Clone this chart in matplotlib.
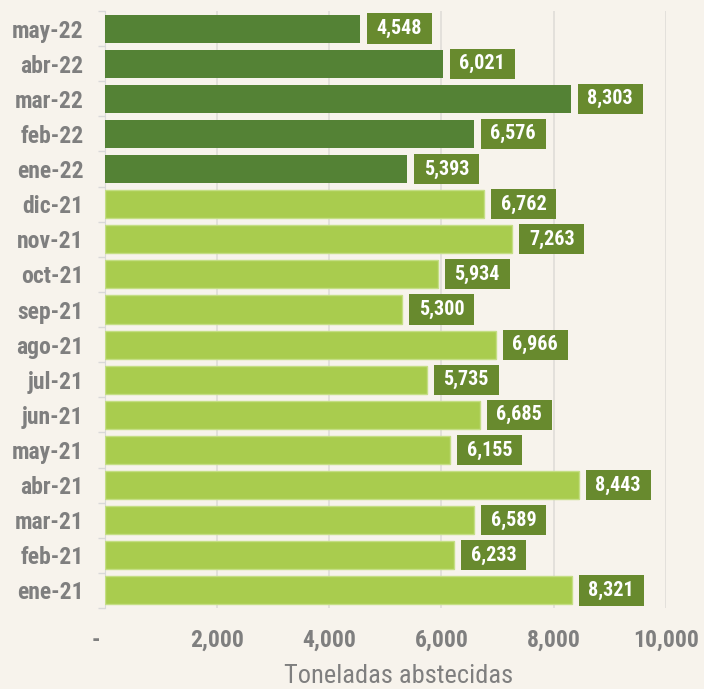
import matplotlib
matplotlib.use("Agg")
import matplotlib.pyplot as plt
from matplotlib import font_manager
from matplotlib.patches import Rectangle

months = ["ene-21", "feb-21", "mar-21", "abr-21", "may-21", "jun-21", "jul-21", "ago-21",
          "sep-21", "oct-21", "nov-21", "dic-21", "ene-22", "feb-22", "mar-22", "abr-22", "may-22"]
values = [8321, 6233, 6589, 8443, 6155, 6685, 5735, 6966,
          5300, 5934, 7263, 6762, 5393, 6576, 8303, 6021, 4548]
year_2022 = [False] * 12 + [True] * 5
xticks = [0, 2000, 4000, 6000, 8000, 10000]
xticklabels = ["-   ", "2,000", "4,000", "6,000", "8,000", "10,000"]
xlabel = "Toneladas abstecidas"

names = {f.name for f in font_manager.fontManager.ttflist}
fam = [f for f in ["Roboto Condensed", "Liberation Sans Narrow", "Liberation Sans", "DejaVu Sans"] if f in names]
plt.rcParams['font.family'] = fam

BG = "#f7f3ec"
DARK = "#548235"
LIGHT = "#a9cc4e"
BOX = "#688a2e"
GRAY = "#7f7f7f"

W, H = 704, 689
fig = plt.figure(figsize=(W / 100, H / 100), dpi=100, facecolor=BG)
ax_w_px = 561.5
ax = fig.add_axes([104.5 / W, 81 / H, ax_w_px / W, 597 / H], facecolor=BG)

xmax = 10000
px = xmax / ax_w_px  # data units per pixel

colors = [DARK if y else LIGHT for y in year_2022]
pos = list(range(len(months)))
ax.barh(pos, values, height=0.8, color=colors,
        edgecolor=["none" if y else "#c4de84" for y in year_2022], linewidth=1, zorder=3)

box_w = 65 * px
gap = 7 * px
box_h = 0.86
for p, v in zip(pos, values):
    x0 = v + gap
    ax.add_patch(Rectangle((x0, p - box_h / 2), box_w, box_h, facecolor=BOX,
                           edgecolor="none", zorder=4, clip_on=False))
    ax.text(x0 + box_w / 2, p, f"{v:,}", ha="center", va="center", color="white",
            fontsize=14.5, fontweight="bold", zorder=5)

ax.set_xlim(0, xmax)
ax.set_ylim(-0.5, len(months) - 0.5)
ax.set_yticks(pos)
ax.set_yticklabels(months, fontsize=17, fontweight="bold", color=GRAY)
ax.set_yticks([p - 0.5 for p in range(len(months) + 1)], minor=True)
ax.tick_params(axis="y", which="major", length=0, pad=15)
ax.tick_params(axis="y", which="minor", length=5, color="#d9d9d9", width=1)
ax.set_xticks(xticks)
ax.set_xticklabels(xticklabels, fontsize=17, fontweight="bold", color=GRAY)
ax.tick_params(axis="x", length=0, pad=15)
ax.set_xlabel(xlabel, fontsize=19, color=GRAY)
ax.xaxis.set_label_coords(0.523, -0.094)
ax.grid(axis="x", color="#e0ddd8", linewidth=1.2, zorder=0)
for s in ["top", "right", "bottom"]:
    ax.spines[s].set_visible(False)
ax.spines["left"].set_color("#d9d9d9")

fig.savefig("out.png", dpi=100, facecolor=BG)
